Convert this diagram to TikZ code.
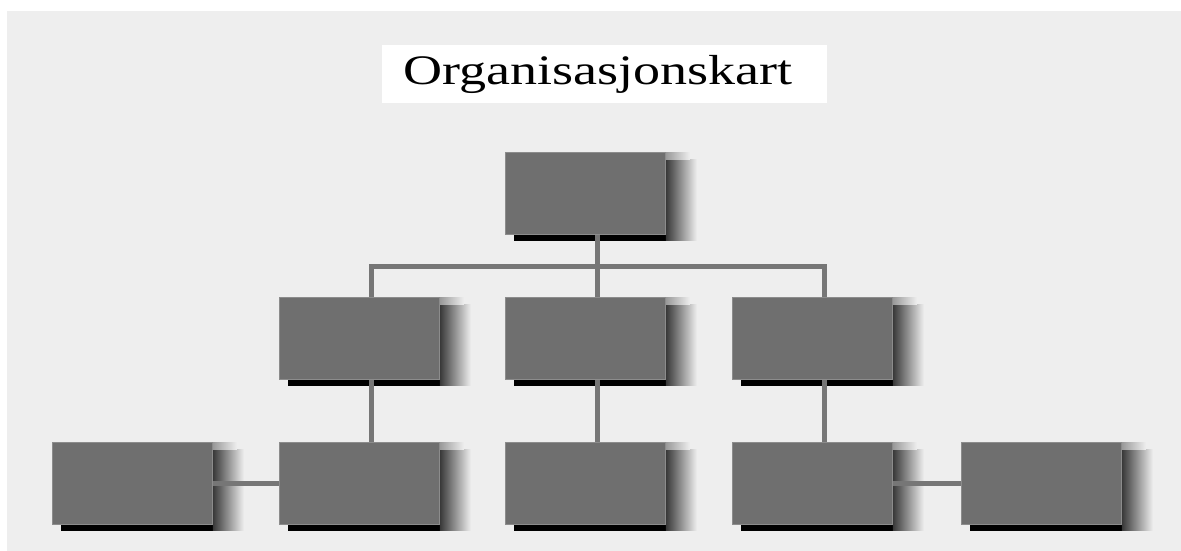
\documentclass[tikz,border=0pt]{standalone}
\usepackage{fontspec}
\setmainfont{Liberation Serif}
\usetikzlibrary{calc}
\definecolor{bg}{HTML}{EEEEEE}
\definecolor{face}{HTML}{6F6F6F}
\definecolor{wire}{HTML}{767676}
\pgfdeclarelayer{back}
\pgfdeclarelayer{shade}
\pgfdeclarelayer{wires}
\pgfsetlayers{back,shade,wires,main}
\tikzset{
  unit/.style={rectangle, draw=face!80!white, line width=0.8pt, fill=face,
    minimum width=160pt, minimum height=82pt, inner sep=0pt, anchor=north west},
  wire/.style={draw=wire, line width=5pt},
}
% drop shadow of a unit: black strip below, dark fade on the right
\newcommand\unitshadow[1]{%
  \fill[black] ($(#1.south west)+(9,0)$) rectangle ($(#1.south east)+(8,6)$);
  \shade[left color=black!78, right color=bg] ($(#1.north east)+(0,7)$) rectangle ($(#1.south east)+(31,6)$);
  \shade[left color=black!40, right color=bg] (#1.north east) rectangle ($(#1.north east)+(24,7)$);
}
\begin{document}
\begin{tikzpicture}[x=1pt,y=-1pt]
\useasboundingbox (0,0) rectangle (1181,551);
\begin{pgfonlayer}{back}
  \fill[white] (0,0) rectangle (1181,551);
  \fill[bg] (7,11) rectangle (1181,551);
\end{pgfonlayer}

% title
\node[fill=white, minimum width=445pt, minimum height=58pt, inner sep=0pt] (title) at (604.5,74)
  {\hspace*{-13pt}\fontsize{42}{50}\selectfont\scalebox{1.287}[1]{Organisasjonskart}};

% units
\node[unit] (top) at (505,152) {};
\node[unit] (m1) at (279,297) {};
\node[unit] (m2) at (505,297) {};
\node[unit] (m3) at (732,297) {};
\node[unit] (b1) at (52,442) {};
\node[unit] (b2) at (279,442) {};
\node[unit] (b3) at (505,442) {};
\node[unit] (b4) at (732,442) {};
\node[unit] (b5) at (961,442) {};

\begin{pgfonlayer}{shade}
  \foreach \n in {top,m1,m2,m3,b1,b2,b3,b4,b5} {\unitshadow{\n}}
\end{pgfonlayer}

\begin{pgfonlayer}{wires}
  \coordinate (bus) at (597,266.5);
  \draw[wire] ([xshift=12pt]m1.north) |- (bus) -| ([xshift=12pt]m3.north);
  \draw[wire] ([xshift=12pt]top.south) -- ([xshift=12pt]m2.north);
  \draw[wire] ([xshift=12pt]m1.south) -- ([xshift=12pt]b2.north);
  \draw[wire] ([xshift=12pt]m2.south) -- ([xshift=12pt]b3.north);
  \draw[wire] ([xshift=12pt]m3.south) -- ([xshift=12pt]b4.north);
  \draw[wire] (b1.east) -- (b2.west);
  \draw[wire] (b4.east) -- (b5.west);
\end{pgfonlayer}
\end{tikzpicture}
\end{document}
